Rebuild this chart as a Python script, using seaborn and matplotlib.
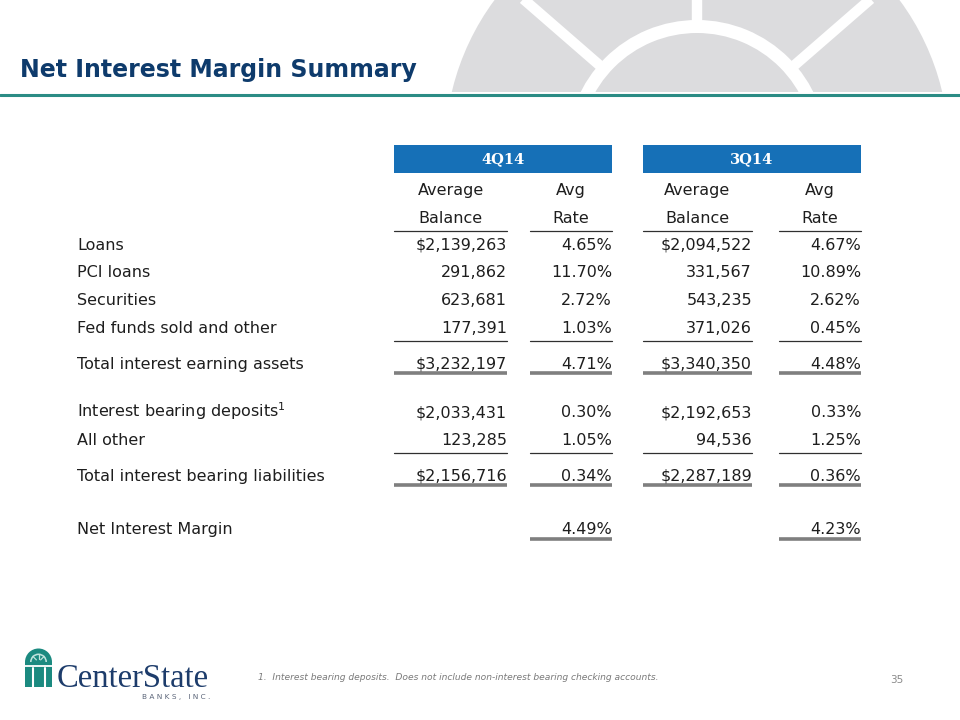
import numpy as np
import matplotlib
matplotlib.use("Agg")
import matplotlib.pyplot as plt
from matplotlib.patches import Circle, Wedge, Rectangle
import seaborn as sns

# table data
periods = ["4Q14", "3Q14"]
col_heads_top = ["Average", "Avg", "Average", "Avg"]
col_heads_bottom = ["Balance", "Rate", "Balance", "Rate"]
row_labels = ["Loans", "PCI loans", "Securities", "Fed funds sold and other",
              "Total interest earning assets", "Interest bearing deposits$^{1}$",
              "All other", "Total interest bearing liabilities", "Net Interest Margin"]
bal_4q = [2139263, 291862, 623681, 177391, 3232197, 2033431, 123285, 2156716, None]
rate_4q = [4.65, 11.70, 2.72, 1.03, 4.71, 0.30, 1.05, 0.34, 4.49]
bal_3q = [2094522, 331567, 543235, 371026, 3340350, 2192653, 94536, 2287189, None]
rate_3q = [4.67, 10.89, 2.62, 0.45, 4.48, 0.33, 1.25, 0.36, 4.23]
dollar_rows = [True, False, False, False, True, True, False, True, False]
row_rules = ["", "", "", "single", "double", "", "single", "double", "double"]
footnote = "1.  Interest bearing deposits.  Does not include non-interest bearing checking accounts."
page_no = "35"

# layout (pixels, y down)
col_spans = [(394, 507), (530, 612), (643, 752), (779, 861)]
row_step = 27.8
extra_after = [0, 0, 0, 8, 20.5, 0, 8, 26, 0]
first_row = 244
label_x = 77
FS = 11.5

sns.set_theme(style="white")
plt.rcParams['font.family'] = ['DejaVu Sans']

NAVY = "#0e3b6c"
TEAL = "#2b8c85"
BLUE = "#1670b7"
GREY_BG = "#dcdcde"
TXT = "#1e1e1e"

fig = plt.figure(figsize=(9.6, 7.2), dpi=100)
ax = fig.add_axes([0, 0, 1, 1])
ax.set_xlim(0, 960)
ax.set_ylim(720, 0)
ax.axis("off")

# background sunburst
clip = Rectangle((0, 0), 960, 92, transform=ax.transData)
cx, cy = 697, 150
disk = Circle((cx, cy), 252, color=GREY_BG, lw=0, zorder=0)
ax.add_patch(disk)
disk.set_clip_path(clip)
ring = Wedge((cx, cy), 130, 0, 360, width=13, color="white", lw=0, zorder=1)
ax.add_patch(ring)
ring.set_clip_path(clip)
for ang in [90, 139, 41]:
    a = np.deg2rad(ang)
    ln, = ax.plot([cx + 125 * np.cos(a), cx + 270 * np.cos(a)],
                  [cy - 125 * np.sin(a), cy - 270 * np.sin(a)],
                  color="white", lw=7.5, solid_capstyle="butt", zorder=1)
    ln.set_clip_path(clip)

# title and rule
ax.text(20, 70, "Net Interest Margin Summary", fontsize=17, fontweight="bold",
        color=NAVY, va="center", ha="left", zorder=3)
ax.plot([0, 960], [94.5, 94.5], color=TEAL, lw=2.2, zorder=3)

# header boxes
for i, p in enumerate(periods):
    x0 = col_spans[2 * i][0]
    x1 = col_spans[2 * i + 1][1]
    ax.add_patch(Rectangle((x0, 145), x1 - x0, 28, color=BLUE, lw=0, zorder=2))
    ax.text((x0 + x1) / 2, 159.5, p, color="white", fontsize=10.5, fontweight="bold",
            family="DejaVu Serif", ha="center", va="center", zorder=3)

for j, (a, b) in enumerate(col_spans):
    xc = (a + b) / 2
    ax.text(xc, 195, col_heads_top[j], fontsize=FS, color=TXT, ha="center", va="baseline")
    ax.text(xc, 223, col_heads_bottom[j], fontsize=FS, color=TXT, ha="center", va="baseline")
    ax.plot([a, b], [231, 231], color="#303030", lw=0.9)

# rows
ys = [first_row]
for k in range(len(row_labels) - 1):
    ys.append(ys[-1] + row_step + extra_after[k])

def fmt_bal(v, dollar):
    if v is None:
        return ""
    return ("$" if dollar else "") + f"{v:,}"

for i, lab in enumerate(row_labels):
    y = ys[i]
    ax.text(label_x, y + 5.5, lab, fontsize=FS, color=TXT, ha="left", va="baseline")
    cells = [fmt_bal(bal_4q[i], dollar_rows[i]), f"{rate_4q[i]:.2f}%",
             fmt_bal(bal_3q[i], dollar_rows[i]), f"{rate_3q[i]:.2f}%"]
    for j, s in enumerate(cells):
        if s:
            ax.text(col_spans[j][1], y + 5.5, s, fontsize=FS, color=TXT,
                    ha="right", va="baseline")
    rule = row_rules[i]
    if rule == "single":
        for a, b in col_spans:
            ax.plot([a, b], [y + 13.5, y + 13.5], color="#303030", lw=0.9)
    elif rule == "double":
        for j, (a, b) in enumerate(col_spans):
            if cells[j]:
                ax.plot([a, b], [y + 10, y + 10], color="#7f7f7f", lw=2.6,
                        solid_capstyle="butt")

# footer
ax.text(258, 678, footnote, fontsize=6.6, style="italic", color="#7a7a7a",
        ha="left", va="center")
ax.text(903, 680, page_no, fontsize=7.5, color="#8a8a8a", ha="right", va="center")

# logo
LOGO_TEAL = "#1b8a80"
ax.add_patch(Rectangle((25, 662), 27, 25, color=LOGO_TEAL, lw=0))
ax.add_patch(Wedge((38.5, 662), 13.5, 180, 360, color=LOGO_TEAL, lw=0))
ax.add_patch(Wedge((38.5, 662), 8.5, 180, 360, width=1.6, color="#bfe3dd", lw=0))
for ang in [45, 90, 135]:
    a = np.deg2rad(ang)
    ax.plot([38.5 + 3 * np.cos(a), 38.5 + 8 * np.cos(a)],
            [662 - 3 * np.sin(a), 662 - 8 * np.sin(a)], color="#bfe3dd", lw=0.9)
ax.plot([25, 52], [666, 666], color="white", lw=1.3)
for gx in [32.5, 44.5]:
    ax.plot([gx, gx], [668, 687], color="white", lw=1.5)
ax.text(57, 687, "CenterState", fontsize=23.5, family="Liberation Serif",
        color="#1d3c6b", ha="left", va="baseline")
ax.text(210, 697, "B A N K S ,   I N C .", fontsize=5.3, color="#5a6478",
        ha="right", va="center")

fig.savefig("out.png", dpi=100)
